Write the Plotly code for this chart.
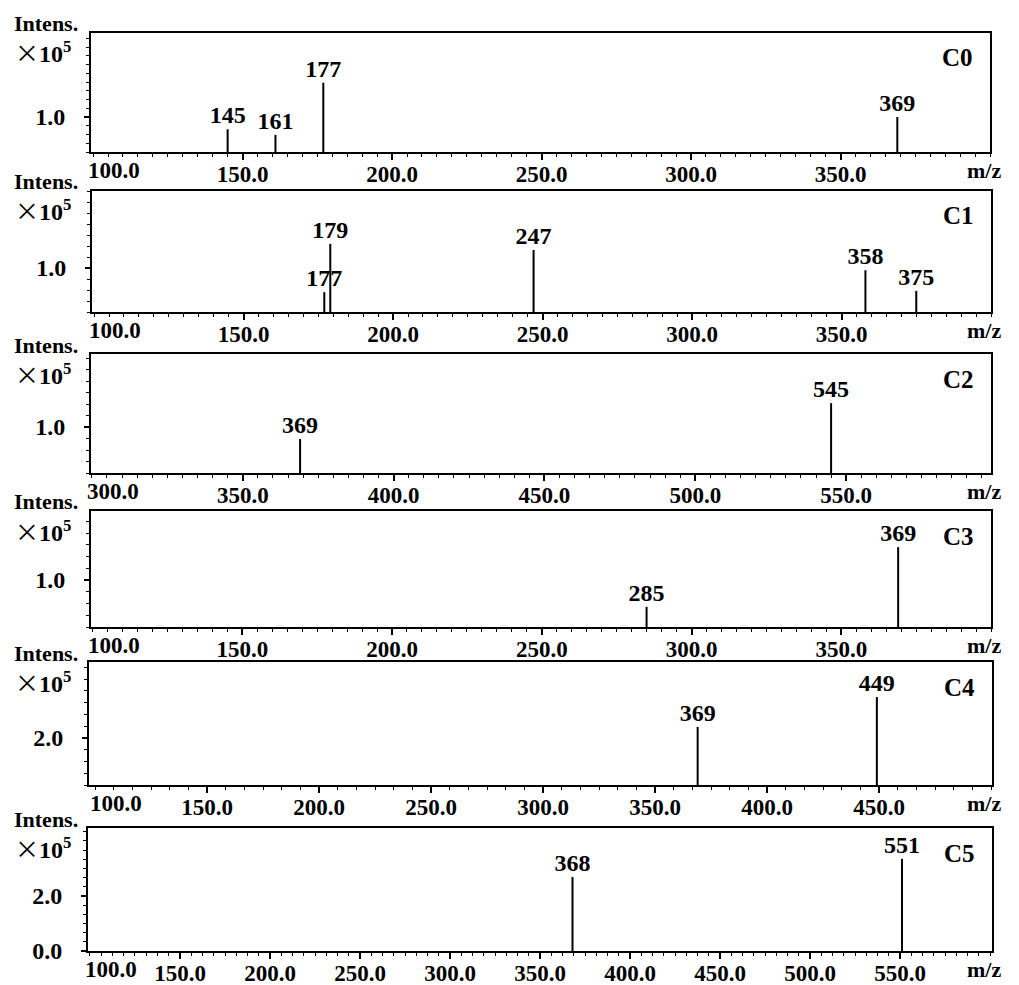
import plotly.graph_objects as go

W, H = 1019, 985
FONT = "Liberation Serif"

# ---- data: peak m/z and intensity (x10^5) for each spectrum ----
panel_names = ["C0", "C1", "C2", "C3", "C4", "C5"]

c0_mz = [145, 161, 177, 369]
c0_int = [0.65, 0.49, 1.98, 1.00]
c1_mz = [177, 179, 247, 358, 375]
c1_int = [0.45, 1.55, 1.41, 0.95, 0.48]
c2_mz = [369, 545]
c2_int = [0.74, 1.52]
c3_mz = [285, 369]
c3_int = [0.43, 1.70]
c4_mz = [369, 449]
c4_int = [2.47, 3.74]
c5_mz = [368, 551]
c5_int = [2.69, 3.35]

peak_mz = [c0_mz, c1_mz, c2_mz, c3_mz, c4_mz, c5_mz]
peak_int = [c0_int, c1_int, c2_int, c3_int, c4_int, c5_int]

# axis extents
x_ranges = [[99.3, 400], [99.3, 400], [299.7, 598], [99.5, 400], [97.3, 500.4], [98.9, 601]]
y_ranges = [[0, 3.4], [0, 2.75], [0, 2.59], [0, 2.47], [0, 5.23], [0, 4.47]]

# labelled ticks
x_tick_labels = [
    [100, 150, 200, 250, 300, 350],
    [100, 150, 200, 250, 300, 350],
    [300, 350, 400, 450, 500, 550],
    [100, 150, 200, 250, 300, 350],
    [100, 150, 200, 250, 300, 350, 400, 450],
    [100, 150, 200, 250, 300, 350, 400, 450, 500, 550],
]
y_tick_labels = [[1.0], [1.0], [1.0], [1.0], [2.0], [0.0, 2.0]]

# ---- layout: panel boxes in pixels (top, bottom, left, right) ----
boxes = [
    (33, 152, 91, 990),
    (191, 312, 92, 991),
    (354, 473, 91, 991),
    (511, 627, 91, 991),
    (662, 785, 89, 992),
    (828, 951, 88, 992),
]
x_minor_step = [5, 5, 5, 5, 25 / 3, 6.25]
y_minor_step = [0.25, 0.25, 0.25, 0.25, 0.5, 1 / 3]

fig = go.Figure()


def bold(size):
    return dict(family=FONT, size=size, color="black", weight="bold")


annotations = []

for i, name in enumerate(panel_names):
    n = "" if i == 0 else str(i + 1)
    xa, ya = "x" + n, "y" + n
    top, bottom, left, right = boxes[i]

    # stick spectrum
    xs, ys = [], []
    for m, h in zip(peak_mz[i], peak_int[i]):
        xs += [m, m, None]
        ys += [0, h, None]
    fig.add_trace(go.Scatter(x=xs, y=ys, mode="lines", xaxis=xa, yaxis=ya,
                             line=dict(color="black", width=2),
                             showlegend=False, hoverinfo="skip"))
    fig.add_trace(go.Scatter(x=peak_mz[i], y=peak_int[i], mode="text",
                             text=[str(m) for m in peak_mz[i]],
                             textposition="top center", textfont=bold(24),
                             xaxis=xa, yaxis=ya, cliponaxis=False,
                             showlegend=False, hoverinfo="skip"))

    # x labels every 50 (the first one is set off to the right separately)
    first = x_tick_labels[i][0]
    xt = x_tick_labels[i][1:]
    xtext = [f"{v:.1f}" for v in xt]
    yt = y_tick_labels[i]
    ytext = [f"{v:.1f}" for v in yt]

    axis_common = dict(showgrid=False, zeroline=False, showline=True, mirror=True,
                       linecolor="black", linewidth=2, ticks="outside",
                       tickcolor="black", tickwidth=1.5, automargin=False)
    fig.layout["xaxis" + n] = dict(
        axis_common, domain=[left / W, right / W], range=x_ranges[i], anchor=ya,
        tickmode="array", tickvals=xt, ticktext=xtext, ticklen=6,
        tickfont=bold(23), ticklabelstandoff=-6,
        minor=dict(tickmode="linear", dtick=x_minor_step[i], tick0=0, ticklen=3,
                   tickwidth=1, tickcolor="black", ticks="outside", showgrid=False))
    fig.layout["yaxis" + n] = dict(
        axis_common, domain=[1 - bottom / H, 1 - top / H], range=y_ranges[i], anchor=xa,
        tickmode="array", tickvals=yt, ticktext=ytext, ticklen=5,
        tickfont=bold(24), ticklabelstandoff=14,
        minor=dict(tickmode="linear", dtick=y_minor_step[i], tick0=0, ticklen=3,
                   tickwidth=1, tickcolor="black", ticks="outside", showgrid=False))

    # first x tick label
    annotations.append(dict(x=first, xref=xa, y=0, yref=ya + " domain",
                            text=f"{first:.1f}", showarrow=False, font=bold(23),
                            xanchor="left", xshift=-7, yanchor="top", yshift=-4))
    # axis captions
    annotations.append(dict(x=1003 / W, xref="paper", y=0, yref=ya + " domain",
                            text="m/z", showarrow=False, font=bold(22),
                            xanchor="right", yanchor="top", yshift=-4))
    annotations.append(dict(x=12 / W, xref="paper", y=1, yref=ya + " domain",
                            text="Intens.", showarrow=False, font=bold(22),
                            xanchor="left", yanchor="middle", yshift=9))
    annotations.append(dict(x=13 / W, xref="paper", y=1, yref=ya + " domain",
                            text="<span style=\"font-family:'Noto Sans CJK SC';font-weight:normal\">×</span>10<sup>5</sup>",
                            showarrow=False, font=bold(24),
                            xanchor="left", yanchor="middle", yshift=-19))
    # sample name
    annotations.append(dict(x=1, xref=xa + " domain", y=1, yref=ya + " domain",
                            text=name, showarrow=False, font=bold(25),
                            xanchor="right", xshift=-15, yanchor="middle", yshift=-25))

fig.update_layout(width=W, height=H, margin=dict(l=0, r=0, t=0, b=0, autoexpand=False),
                  paper_bgcolor="white", plot_bgcolor="white",
                  annotations=annotations, showlegend=False)

fig.write_html("out.html")
